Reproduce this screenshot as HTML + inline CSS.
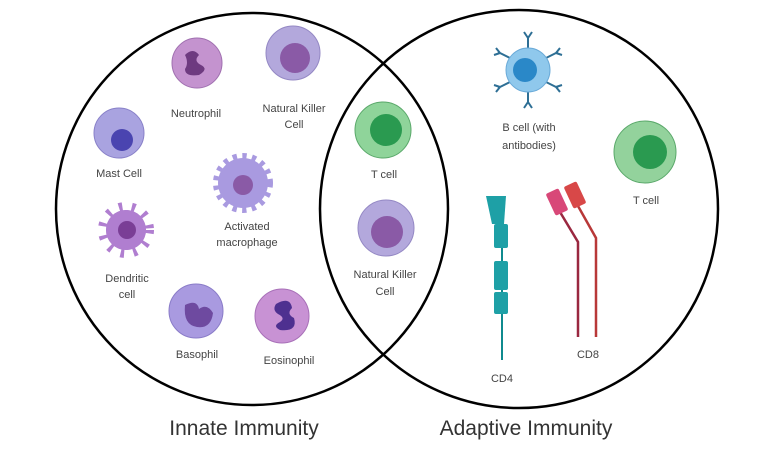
<!DOCTYPE html>
<html><head><meta charset="utf-8"><style>
body{margin:0;background:#fff;}
svg{display:block}
text{font-family:"Liberation Sans",sans-serif;fill:#444;font-size:11px;text-anchor:middle}
.t{font-size:21px;fill:#333}
</style></head><body>
<svg width="768" height="449" viewBox="0 0 768 449">
<circle cx="252" cy="209" r="196" fill="none" stroke="#000" stroke-width="2.5"/>
<circle cx="519" cy="209" r="199" fill="none" stroke="#000" stroke-width="2.5"/>
<!-- Neutrophil -->
<circle cx="197" cy="63" r="25" fill="#c493cf" stroke="#a070b0"/>
<path d="M185 55 q8 -8 14 0 q-6 6 2 10 q8 4 -2 10 q-14 2 -14 -6 q4 -6 0 -14z" fill="#6e3a80"/>
<text x="196" y="117">Neutrophil</text>
<!-- NK top -->
<circle cx="293" cy="53" r="27" fill="#b3a8dc" stroke="#9488c4"/>
<circle cx="295" cy="58" r="15" fill="#8a5aa6"/>
<text x="294" y="112">Natural Killer</text><text x="294" y="128">Cell</text>
<!-- Mast -->
<circle cx="119" cy="133" r="25" fill="#a9a3e0" stroke="#8880c8"/>
<circle cx="122" cy="140" r="11" fill="#4a44b0"/>
<text x="119" y="177">Mast Cell</text>
<!-- Macrophage -->
<circle cx="243" cy="183" r="25" fill="#a99ae0" stroke="#a99ae0" stroke-width="10" stroke-dasharray="4 5"/>
<circle cx="243" cy="183" r="24" fill="#a99ae0"/>
<circle cx="243" cy="185" r="10" fill="#8a5aa6"/>
<text x="247" y="230">Activated</text><text x="247" y="246">macrophage</text>
<!-- Dendritic -->
<circle cx="126" cy="230" r="20" fill="#b07ed0" stroke="#b07ed0" stroke-width="16" stroke-dasharray="3 8"/>
<circle cx="126" cy="230" r="20" fill="#b07ed0"/>
<circle cx="127" cy="230" r="9" fill="#7a3e96"/>
<text x="127" y="282">Dendritic</text><text x="127" y="298">cell</text>
<!-- Basophil -->
<circle cx="196" cy="311" r="27" fill="#a99ae0" stroke="#8a7cc8"/>
<path d="M185 305 q12 -6 14 4 q8 -6 14 4 q-2 16 -16 14 q-14 -2 -12 -22z" fill="#6e4aa0"/>
<text x="197" y="358">Basophil</text>
<!-- Eosinophil -->
<circle cx="282" cy="316" r="27" fill="#c892d4" stroke="#a870b8"/>
<path d="M276 304 q14 -8 16 4 q-6 6 2 10 q4 14 -14 12 q-8 -4 0 -8 q6 -4 -2 -8 q-6 -4 -2 -10z" fill="#4e3090"/>
<text x="289" y="364">Eosinophil</text>
<!-- T cell mid -->
<circle cx="383" cy="130" r="28" fill="#8fd49a" stroke="#5aa86a"/>
<circle cx="386" cy="130" r="16" fill="#2a9a50"/>
<text x="384" y="178">T cell</text>
<!-- NK mid -->
<circle cx="386" cy="228" r="28" fill="#b3a8dc" stroke="#9488c4"/>
<circle cx="387" cy="232" r="16" fill="#8a5aa6"/>
<text x="385" y="278">Natural Killer</text><text x="385" y="295">Cell</text>
<!-- B cell -->
<g stroke="#2e6f95" stroke-width="2" fill="none">
<path d="M528 48 v-12 M528 38 l-4 -6 M528 38 l4 -6"/>
<path d="M528 92 v12 M528 102 l-4 6 M528 102 l4 6"/>
<path d="M510 58 l-12 -6 M500 53 l-4 -5 M500 53 l-6 2"/>
<path d="M546 58 l12 -6 M556 53 l4 -5 M556 53 l6 2"/>
<path d="M510 82 l-12 6 M500 87 l-6 -2 M500 87 l-4 5"/>
<path d="M546 82 l12 6 M556 87 l6 -2 M556 87 l4 5"/>
</g>
<circle cx="528" cy="70" r="22" fill="#8fc8ec" stroke="#6aaad8"/>
<circle cx="525" cy="70" r="12" fill="#2a88c8"/>
<text x="529" y="131">B cell (with</text><text x="529" y="149">antibodies)</text>
<!-- T cell right -->
<circle cx="645" cy="152" r="31" fill="#93d29c" stroke="#5aa86a"/>
<circle cx="650" cy="152" r="17" fill="#2a9a50"/>
<text x="646" y="204">T cell</text>
<!-- CD4 -->
<line x1="502" y1="240" x2="502" y2="360" stroke="#0f8a8e" stroke-width="2"/>
<path d="M486 196 h20 l-2 28 h-12z" fill="#1ea0a6"/>
<rect x="494" y="224" width="14" height="24" rx="2" fill="#1ea0a6"/>
<rect x="494" y="261" width="14" height="29" rx="2" fill="#1ea0a6"/>
<rect x="494" y="292" width="14" height="22" rx="2" fill="#1ea0a6"/>
<text x="502" y="382">CD4</text>
<!-- CD8 -->
<path d="M560 212 l18 30 v95" fill="none" stroke="#9a2840" stroke-width="2.5"/>
<path d="M578 206 l18 32 v99" fill="none" stroke="#b83838" stroke-width="2.5"/>
<rect x="550" y="190" width="14" height="24" rx="2" fill="#d84878" transform="rotate(-25 557 202)"/>
<rect x="568" y="183" width="14" height="24" rx="2" fill="#d84848" transform="rotate(-25 575 195)"/>
<text x="588" y="358">CD8</text>
<text class="t" x="244" y="435">Innate Immunity</text>
<text class="t" x="526" y="435">Adaptive Immunity</text>
</svg>
</body></html>
